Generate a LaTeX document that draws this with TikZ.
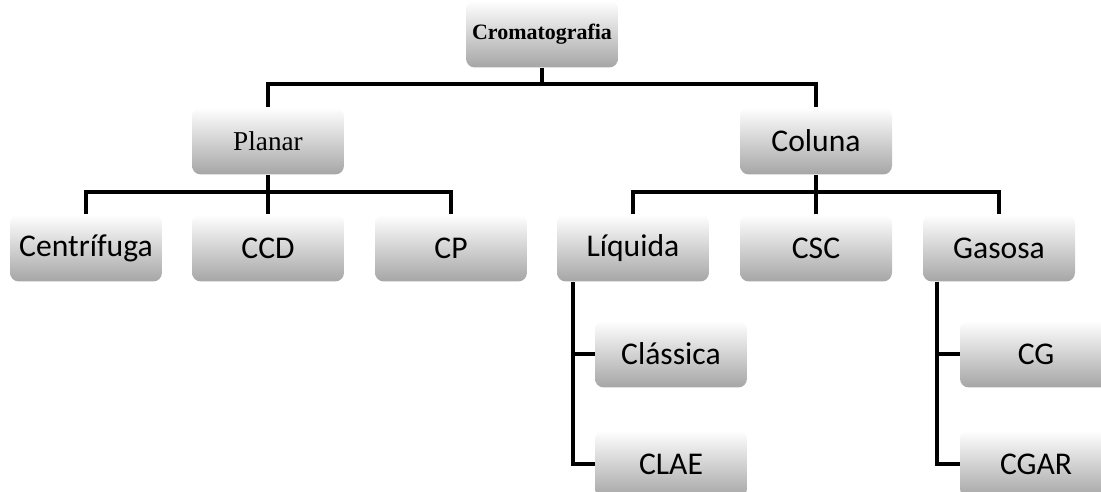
\documentclass[tikz,border=0pt]{standalone}
\usepackage{fontspec}
\setmainfont{Carlito}
\newfontfamily\titlefont{Liberation Serif}
\usetikzlibrary{positioning}
\tikzset{
every node/.style={rectangle, rounded corners=5pt, top color=white, bottom color=black!35,
  minimum width=3.04cm, minimum height=1.34cm, inner sep=0pt, font=\fontsize{18}{20}\selectfont},
serifnode/.style={font=\titlefont\fontsize{15.5}{17}\selectfont},
topnode/.style={font=\titlefont\bfseries\fontsize{12.5}{14}\selectfont},
link/.style={draw=black, line width=1.9pt}
}

\begin{document}
\begin{tikzpicture}[x=0.02cm, y=-0.02cm]
\useasboundingbox (0,0) rectangle (1101,492);
\begin{scope}
\clip (0,0) rectangle (1101,492);
\node[topnode] (crom) at (542,34) {Cromatografia};
\node[serifnode] (planar) at (268,141) {Planar};
\node (coluna) at (816,141) {Coluna};

\node (centrifuga) at (86,248) {Centrífuga};
\node (ccd) at (268,248) {CCD};
\node (cp) at (451,248) {CP};
\node (liquida) at (633,248) {Líquida};
\node (csc) at (816,248) {CSC};
\node (gasosa) at (999,248) {Gasosa};

\node (classica) at (671,354) {Clássica};
\node (clae) at (671,464) {CLAE};
\node (cg) at (1036,354) {CG};
\node (cgar) at (1036,464) {CGAR};

\coordinate (busA) at (542,84);
\coordinate (busB) at (268,192);
\coordinate (busC) at (816,192);
\coordinate (liqA) at (573,282);
\coordinate (gasA) at (937,282);

\draw[link] (crom) -- (busA);
\draw[link] (planar.north) |- (busA) -| (coluna.north);
\draw[link] (planar.south) -- (ccd.north);
\draw[link] (centrifuga.north) |- (busB) -| (cp.north);
\draw[link] (coluna.south) -- (csc.north);
\draw[link] (liquida.north) |- (busC) -| (gasosa.north);
\draw[link] (liqA) |- (classica.west);
\draw[link] (liqA) |- (clae.west);
\draw[link] (gasA) |- (cg.west);
\draw[link] (gasA) |- (cgar.west);
\end{scope}
\end{tikzpicture}
\end{document}
